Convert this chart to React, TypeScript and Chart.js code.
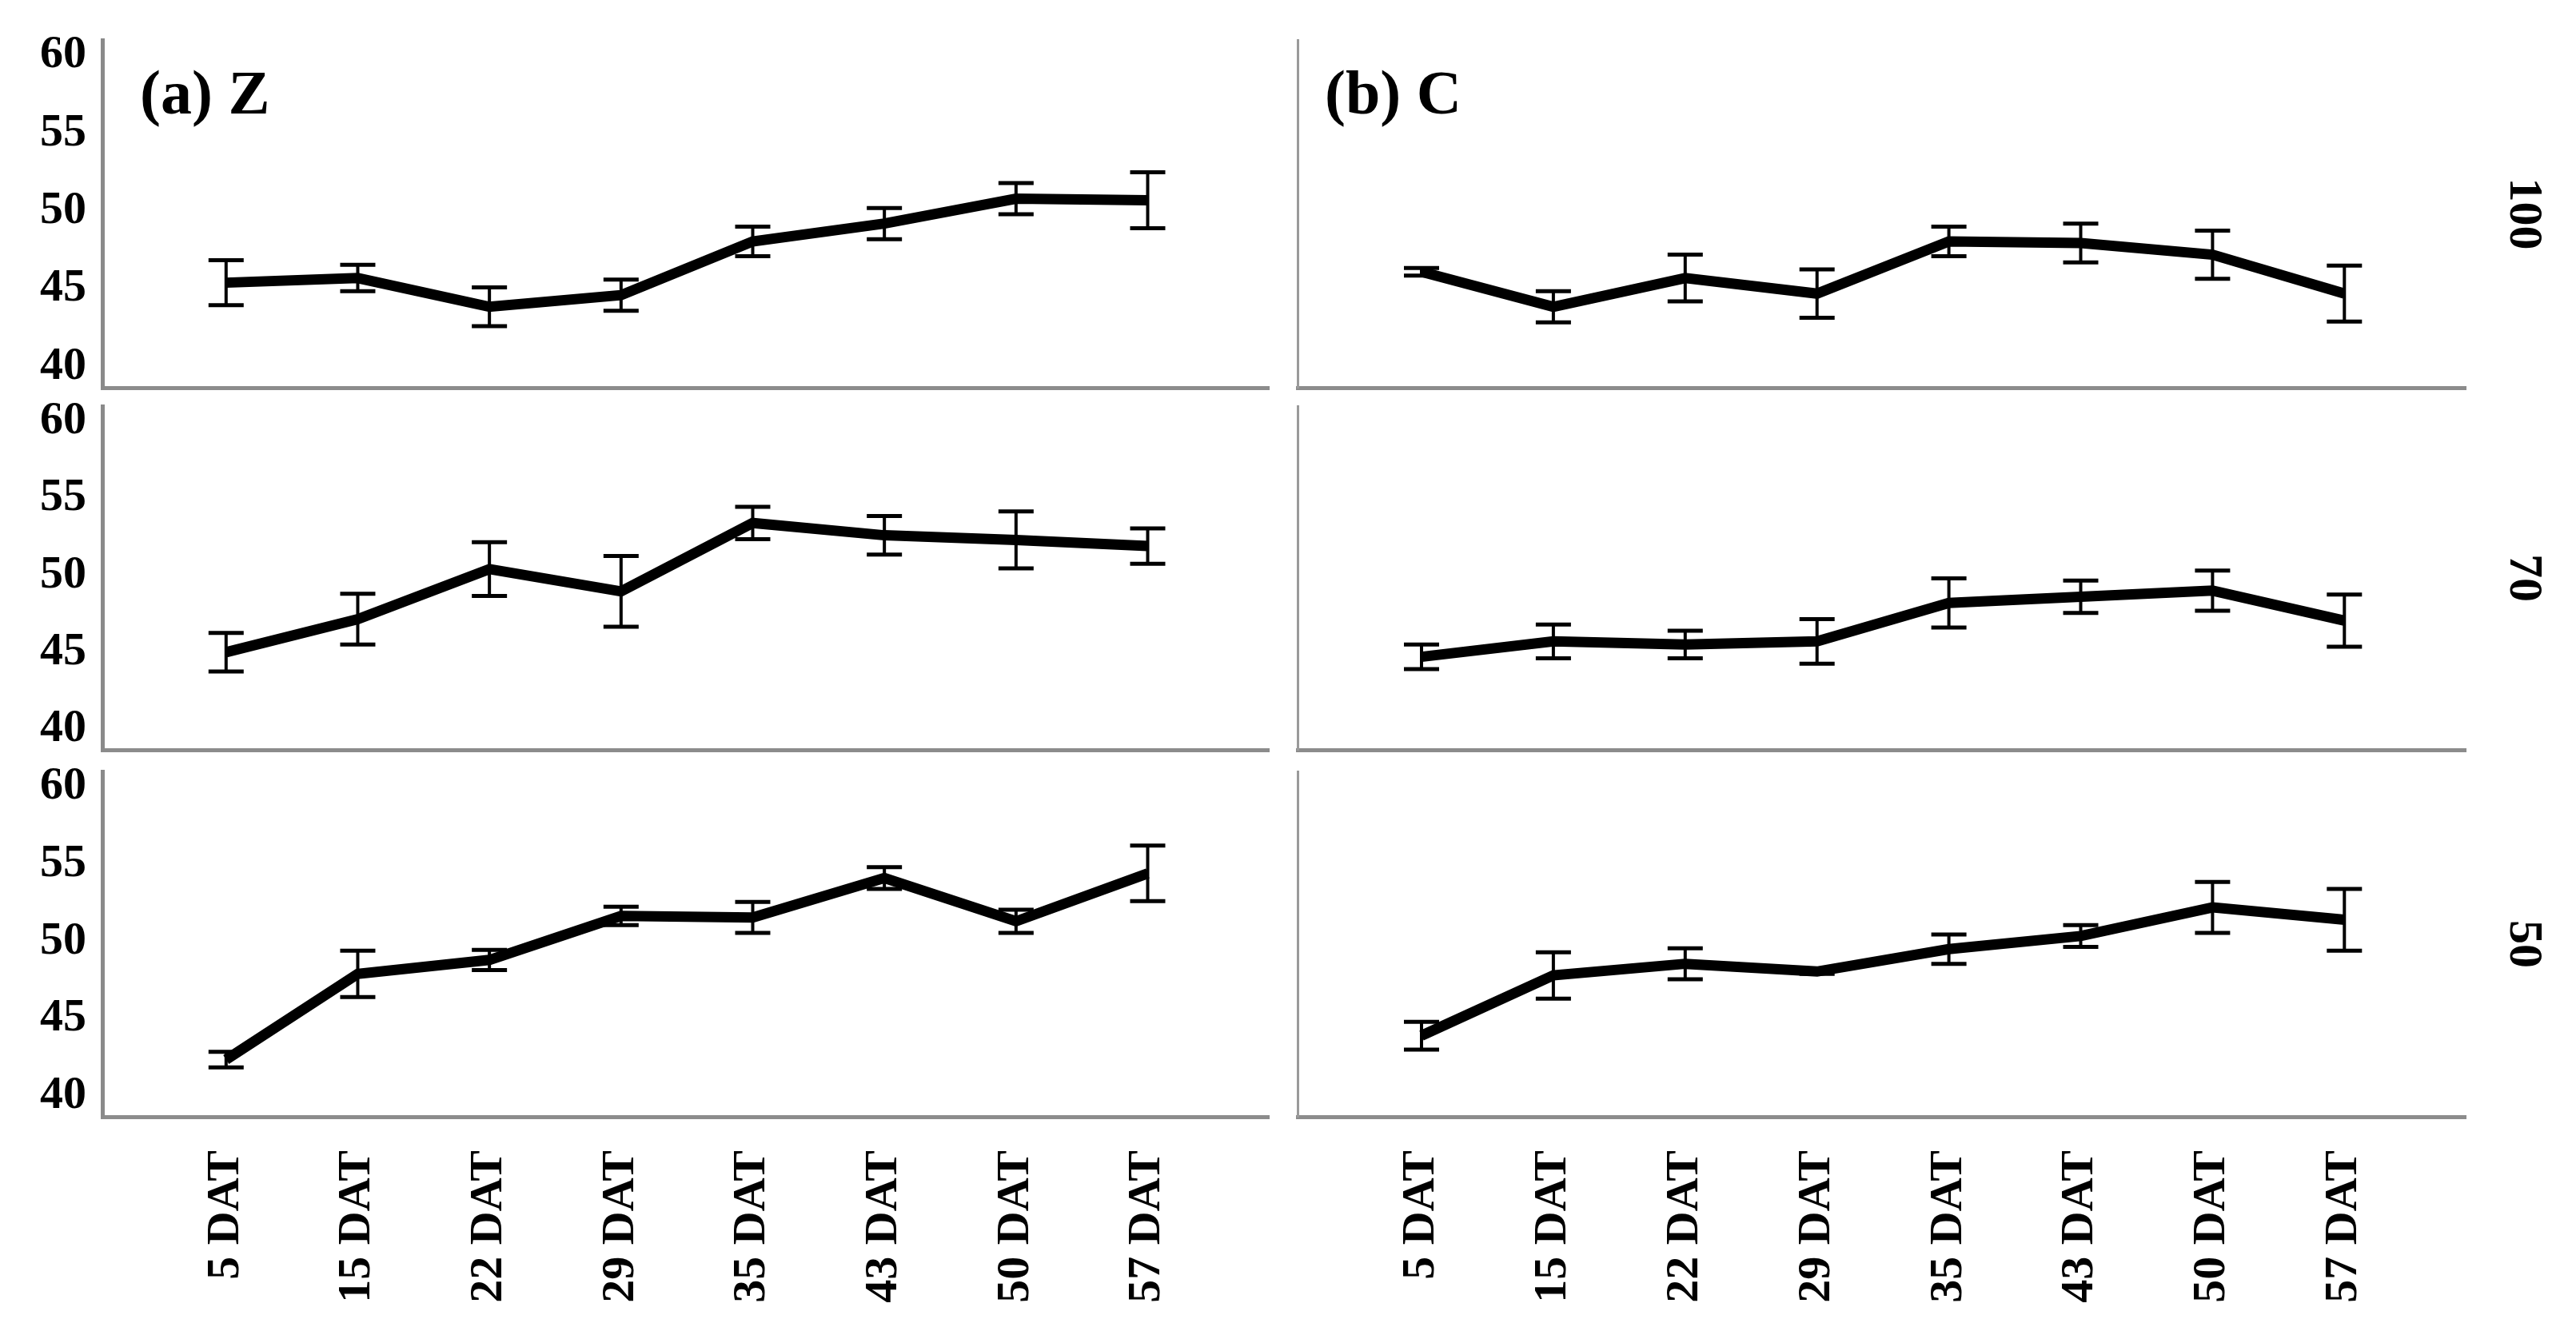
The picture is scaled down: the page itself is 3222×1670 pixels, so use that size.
import React, { useEffect, useRef } from 'react';
import { Chart, registerables } from 'chart.js';

Chart.register(...registerables);

// ---------- data ----------
const categories = ['5 DAT', '15 DAT', '22 DAT', '29 DAT', '35 DAT', '43 DAT', '50 DAT', '57 DAT'];
const yTicks = [40, 45, 50, 55, 60];
const rowLabels = ['100', '70', '50'];
const panelTitles = ['(a) Z', '(b) C'];

const z100 = [45.4, 45.7, 43.85, 44.6, 48.05, 49.2, 50.8, 50.7];
const z100Err = [1.45, 0.85, 1.25, 1.0, 0.95, 1.0, 1.0, 1.8];
const c100 = [46.1, 43.85, 45.7, 44.7, 48.05, 47.95, 47.2, 44.7];
const c100Err = [0.25, 1.0, 1.5, 1.55, 0.95, 1.25, 1.55, 1.8];

const z70 = [45.0, 47.15, 50.4, 48.95, 53.4, 52.6, 52.3, 51.9];
const z70Err = [1.25, 1.65, 1.75, 2.3, 1.05, 1.25, 1.85, 1.15];
const c70 = [44.7, 45.7, 45.5, 45.7, 48.2, 48.6, 49.0, 47.05];
const c70Err = [0.8, 1.1, 0.9, 1.45, 1.6, 1.05, 1.3, 1.7];

const z50 = [42.35, 47.9, 48.8, 51.65, 51.55, 54.1, 51.3, 54.4];
const z50Err = [0.5, 1.5, 0.65, 0.6, 1.0, 0.7, 0.75, 1.8];
const c50 = [43.9, 47.8, 48.55, 48.05, 49.5, 50.35, 52.2, 51.4];
const c50Err = [0.9, 1.5, 1.0, 0.15, 0.95, 0.7, 1.65, 2.0];

const seriesGrid = [
  [{ values: z100, errors: z100Err }, { values: c100, errors: c100Err }],
  [{ values: z70, errors: z70Err }, { values: c70, errors: c70Err }],
  [{ values: z50, errors: z50Err }, { values: c50, errors: c50Err }],
];

// ---------- layout ----------
const FONT = '"Liberation Serif", "Times New Roman", serif';
const PAD_TOP = 40;
const plotTops = [50, 508, 965];
const plotBottoms = [485, 938, 1397];
const colLeft = [0, 1611];
const colWidth = 1611;

const errorBarPlugin = {
  id: 'errorBars',
  afterDatasetsDraw(chart: any, _args: any, opts: any) {
    const errs: number[] = opts.errors || [];
    const ds = chart.data.datasets[0];
    const x = chart.scales.x;
    const y = chart.scales.y;
    const ctx = chart.ctx;
    ctx.save();
    ctx.strokeStyle = '#000';
    ctx.lineCap = 'butt';
    ds.data.forEach((pt: any, i: number) => {
      const e = errs[i] || 0;
      const px = x.getPixelForValue(pt.x);
      const top = y.getPixelForValue(pt.y + e);
      const bot = y.getPixelForValue(pt.y - e);
      ctx.lineWidth = 4;
      ctx.beginPath();
      ctx.moveTo(px, top);
      ctx.lineTo(px, bot);
      ctx.stroke();
      ctx.lineWidth = 5;
      ctx.beginPath();
      ctx.moveTo(px - 22, top);
      ctx.lineTo(px + 22, top);
      ctx.moveTo(px - 22, bot);
      ctx.lineTo(px + 22, bot);
      ctx.stroke();
    });
    ctx.restore();
  },
};

const panelTitlePlugin = {
  id: 'panelTitle',
  afterDraw(chart: any, _args: any, opts: any) {
    if (!opts.text) return;
    const { ctx, chartArea } = chart;
    ctx.save();
    ctx.font = `bold ${opts.size}px ${FONT}`;
    ctx.fillStyle = '#000';
    ctx.textBaseline = 'alphabetic';
    ctx.textAlign = 'left';
    ctx.fillText(opts.text, chartArea.left + opts.dx, chartArea.top + opts.dy);
    ctx.restore();
  },
};

function zeroPadding(scale: any) {
  scale.paddingTop = 0;
  scale.paddingBottom = 0;
  scale.paddingLeft = 0;
  scale.paddingRight = 0;
}

function Panel({ row, col }: { row: number; col: number }) {
  const ref = useRef<HTMLCanvasElement>(null);
  const isBottom = row === 2;
  const xH = isBottom ? 1670 - plotBottoms[row] : 10;
  const plotH = plotBottoms[row] - plotTops[row];
  const height = PAD_TOP + plotH + xH;
  const top = plotTops[row] - PAD_TOP;
  const left = colLeft[col];
  const width = colWidth;

  useEffect(() => {
    const s = seriesGrid[row][col];
    const isLeft = col === 0;
    const scales: any = {
      x: {
        type: 'linear',
        min: -0.94,
        max: 7.92,
        afterBuildTicks: (scale: any) => {
          scale.ticks = categories.map((_, i) => ({ value: i }));
        },
        afterFit: (scale: any) => {
          scale.height = xH;
          zeroPadding(scale);
        },
        grid: { display: false, drawTicks: false },
        border: { display: true, color: '#8c8c8c', width: 5 },
        ticks: {
          display: isBottom,
          autoSkip: false,
          minRotation: 90,
          maxRotation: 90,
          padding: 42,
          color: '#000',
          font: { family: FONT, weight: 'bold', size: 58 },
          callback: (v: any) => categories[v as number],
        },
      },
      y: {
        type: 'linear',
        position: 'left',
        min: 38.65,
        max: 61.0,
        afterBuildTicks: (scale: any) => {
          scale.ticks = yTicks.map((v) => ({ value: v }));
        },
        afterFit: (scale: any) => {
          scale.width = isLeft ? 128 : 12;
          zeroPadding(scale);
        },
        grid: { display: false, drawTicks: false },
        border: { display: true, color: isLeft ? '#8a8a8a' : '#9a9a9a', width: isLeft ? 5 : 3 },
        ticks: {
          display: isLeft,
          padding: 20,
          color: '#000',
          font: { family: FONT, weight: 'bold', size: 58 },
        },
      },
    };
    if (!isLeft) {
      scales.yr = {
        type: 'linear',
        position: 'right',
        afterFit: (scale: any) => {
          scale.width = 138;
          zeroPadding(scale);
        },
        grid: { display: false, drawTicks: false },
        border: { display: false },
        ticks: { display: false },
        title: {
          display: true,
          text: rowLabels[row],
          color: '#000',
          font: { family: FONT, weight: 'bold', size: 60, lineHeight: 1.2 },
          padding: { top: 31, bottom: 0 },
        },
      };
    }
    const chart = new Chart(ref.current as HTMLCanvasElement, {
      type: 'line',
      data: {
        datasets: [
          {
            data: s.values.map((v, i) => ({ x: i, y: v })),
            borderColor: '#000',
            borderWidth: 13,
            pointRadius: 0,
            fill: false,
            tension: 0,
          },
        ],
      },
      options: {
        animation: false,
        responsive: false,
        devicePixelRatio: 1,
        events: [],
        layout: {
          autoPadding: false,
          padding: { top: PAD_TOP, left: 0, bottom: 0, right: isLeft ? 24 : 0 },
        },
        scales,
        plugins: {
          legend: { display: false },
          tooltip: { enabled: false },
          errorBars: { errors: s.errors },
          panelTitle:
            row === 0
              ? { text: panelTitles[col], size: 78, dx: isLeft ? 47 : 34, dy: 92 }
              : { text: '' },
        } as any,
      } as any,
      plugins: [errorBarPlugin, panelTitlePlugin],
    });
    return () => chart.destroy();
  }, []);

  return (
    <canvas
      ref={ref}
      width={width}
      height={height}
      style={{ position: 'absolute', left, top, width, height }}
    />
  );
}

export default function App() {
  const panels: JSX.Element[] = [];
  for (let r = 0; r < 3; r++) {
    for (let c = 0; c < 2; c++) {
      panels.push(<Panel key={`${r}-${c}`} row={r} col={c} />);
    }
  }
  return (
    <div
      style={{
        position: 'absolute',
        left: 0,
        top: 0,
        width: 3222,
        height: 1670,
        overflow: 'hidden',
        background: '#fff',
      }}
    >
      {panels}
    </div>
  );
}
